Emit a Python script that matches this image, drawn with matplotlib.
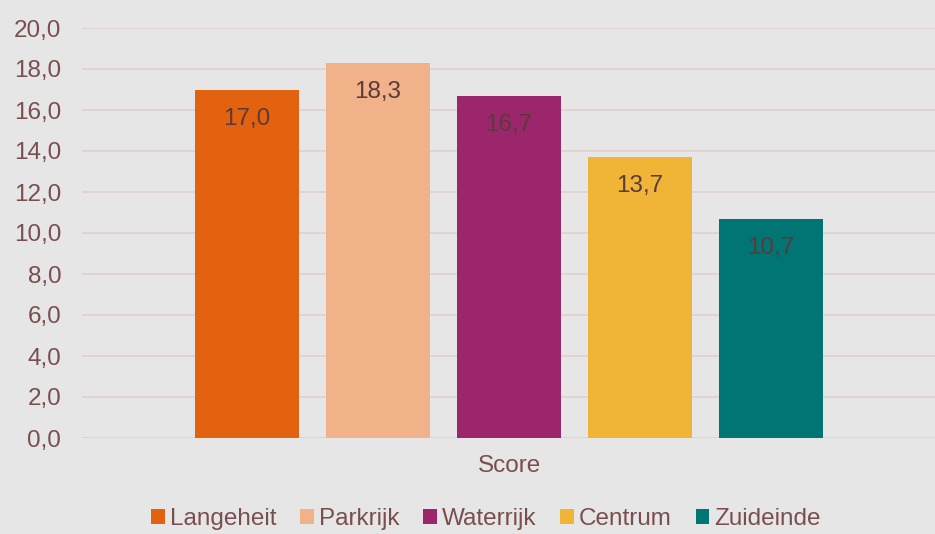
import matplotlib
matplotlib.use("Agg")
import matplotlib.pyplot as plt
from matplotlib.patches import Patch

categories = ["Langeheit", "Parkrijk", "Waterrijk", "Centrum", "Zuideinde"]
values = [17.0, 18.3, 16.7, 13.7, 10.7]
colors = ["#E3620F", "#F1B189", "#9C266C", "#F0B436", "#007574"]
yticks = [0, 2, 4, 6, 8, 10, 12, 14, 16, 18, 20]
xlabel = "Score"

plt.rcParams['font.family'] = ['Liberation Sans', 'DejaVu Sans']
bg = "#E7E6E6"
txt = "#7A4E4E"
lbl = "#5C3A3A"
grid = "#E2D1D1"
fs = 17.5

W, H = 935, 534
fig = plt.figure(figsize=(W / 100, H / 100), dpi=100, facecolor=bg)
ax = fig.add_axes([82 / W, 1 - 438 / H, (937 - 82) / W, (438 - 28) / H], facecolor=bg)

x = list(range(len(categories)))
bars = ax.bar(x, values, width=104 / 131, color=colors, zorder=3)
for xi, v in zip(x, values):
    ax.annotate(f"{v:.1f}".replace(".", ","), (xi, v), xytext=(0, -21),
                textcoords="offset points", ha="center", va="center",
                fontsize=fs, color=lbl, zorder=4)

ax.set_ylim(0, 20)
ax.set_xlim(-1.26, 5.27)
ax.set_yticks(yticks)
ax.set_yticklabels([f"{t:.1f}".replace(".", ",") for t in yticks], fontsize=fs, color=txt)
ax.set_xticks([])
ax.tick_params(axis="y", length=0, pad=15)
for s in ax.spines.values():
    s.set_visible(False)
ax.yaxis.grid(True, color=grid, linewidth=1.3, zorder=0)
ax.set_axisbelow(True)

fig.text(509.5 / W, 1 - 466 / H, xlabel, ha="center", va="center", fontsize=fs, color=txt)

handles = [Patch(facecolor=c, edgecolor="none") for c in colors]
fig.legend(handles, categories, loc="center", bbox_to_anchor=(486 / W, 1 - 519 / H),
           ncol=5, frameon=False, fontsize=fs, labelcolor=txt,
           handlelength=0.55, handleheight=0.55, handletextpad=0.2, columnspacing=1.0)

fig.savefig("out.png", dpi=100, facecolor=bg)
